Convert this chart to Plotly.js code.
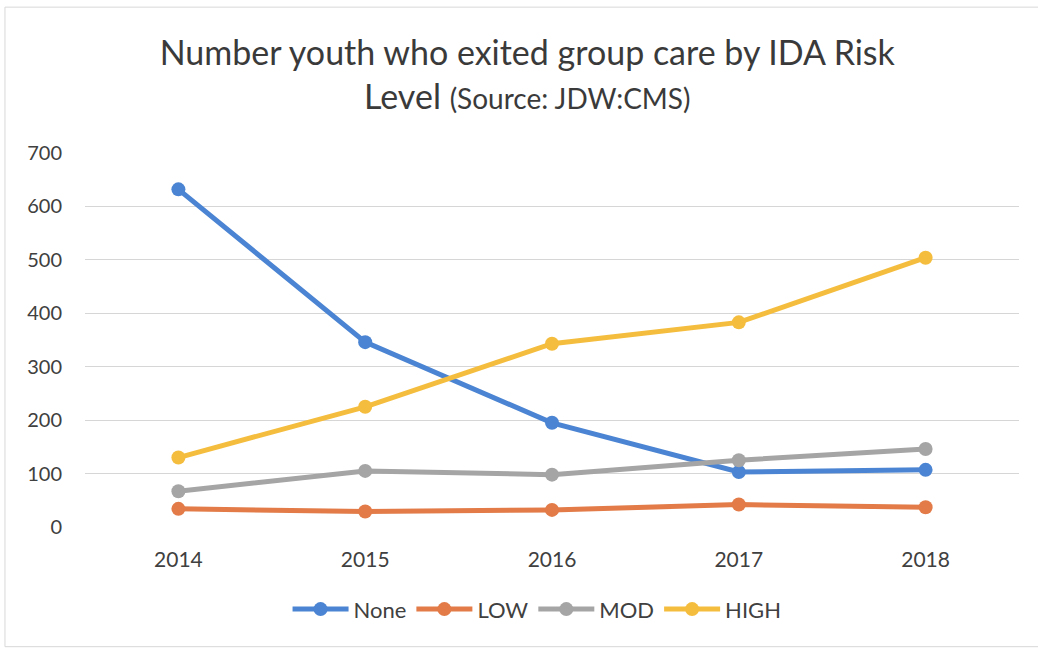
<!DOCTYPE html>
<html>
<head>
<meta charset="utf-8">
<script src="https://cdn.plot.ly/plotly-3.0.1.min.js"></script>
<style>
  html, body { margin: 0; padding: 0; background: #ffffff; }
  #chart { width: 1038px; height: 649px; }
</style>
</head>
<body>
<div id="chart"></div>
<script>
// Youth who exited group care, by IDA risk level, per year
const years = ['2014', '2015', '2016', '2017', '2018'];
const seriesNames = ['None', 'LOW', 'MOD', 'HIGH'];
const noneRisk = [632, 346, 195, 103, 107];
const lowRisk = [34, 29, 32, 42, 37];
const modRisk = [67, 105, 98, 125, 146];
const highRisk = [130, 225, 343, 383, 504];
const yTicks = [0, 100, 200, 300, 400, 500, 600, 700];

const seriesValues = [noneRisk, lowRisk, modRisk, highRisk];
const seriesColors = ['#4A84D2', '#E27B47', '#A5A5A5', '#F5BD3E'];

const traces = seriesNames.map((name, i) => ({
  type: 'scatter',
  mode: 'lines+markers',
  name: name,
  x: years,
  y: seriesValues[i],
  line: { color: seriesColors[i], width: 5 },
  marker: { color: seriesColors[i], size: 14 }
}));

const textFont = 'Lato, "Open Sans", "DejaVu Sans", sans-serif';

const layout = {
  width: 1038,
  height: 649,
  paper_bgcolor: '#ffffff',
  plot_bgcolor: '#ffffff',
  margin: { l: 85, r: 19, t: 153, b: 122 },
  font: { family: textFont, color: '#404040' },
  title: {
    text: 'Number youth who exited group care by IDA Risk<br>Level <span style="font-size:28px">(Source: JDW:CMS)</span>',
    font: { family: textFont, size: 34, color: '#3a3a3a' },
    x: 0.508,
    xanchor: 'center',
    xref: 'container',
    y: 0.9,
    yanchor: 'top',
    yref: 'container'
  },
  xaxis: {
    type: 'category',
    range: [-0.5, 4.5],
    showgrid: false,
    zeroline: false,
    showline: false,
    ticks: 'outside',
    ticklen: 14,
    tickcolor: 'rgba(0,0,0,0)',
    tickfont: { family: textFont, size: 21, color: '#404040' },
    fixedrange: true
  },
  yaxis: {
    range: [0, 700],
    tickvals: yTicks,
    ticktext: yTicks.map(String),
    showgrid: true,
    gridcolor: '#d6d6d6',
    gridwidth: 1,
    zeroline: false,
    showline: false,
    ticks: 'outside',
    ticklen: 18,
    tickcolor: 'rgba(0,0,0,0)',
    tickfont: { family: textFont, size: 20, color: '#404040' },
    fixedrange: true
  },
  showlegend: true,
  legend: {
    orientation: 'h',
    x: 0.484,
    xanchor: 'center',
    y: -0.22,
    yanchor: 'middle',
    itemwidth: 56,
    font: { family: textFont, size: 22, color: '#404040' },
    bgcolor: 'rgba(0,0,0,0)'
  },
  shapes: [{
    type: 'rect',
    xref: 'paper', yref: 'paper',
    x0: -0.0857, x1: 1.03,
    y0: -0.32, y1: 1.39,
    line: { color: '#d8d8d8', width: 1 },
    fillcolor: 'rgba(0,0,0,0)',
    layer: 'below'
  }]
};

Plotly.newPlot('chart', traces, layout, { displayModeBar: false, staticPlot: true });
</script>
</body>
</html>
